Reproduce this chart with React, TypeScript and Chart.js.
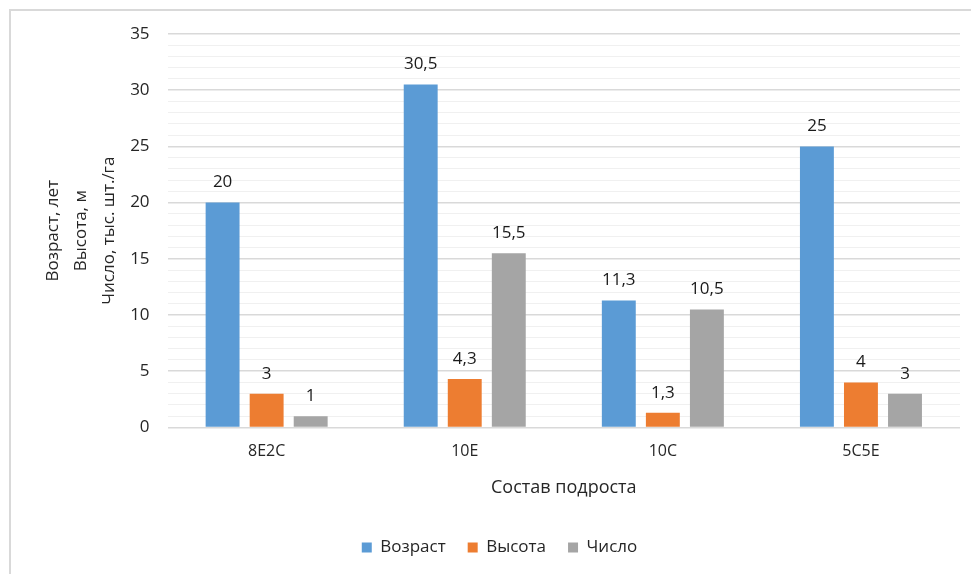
import React, { useEffect, useRef } from 'react';
import { Chart, registerables } from 'chart.js';

Chart.register(...registerables);

const categories = ['8Е2С', '10Е', '10С', '5С5Е'];
const seriesNames = ['Возраст', 'Высота', 'Число'];
const vozrast = [20, 30.5, 11.3, 25];
const vysota = [3, 4.3, 1.3, 4];
const chislo = [1, 15.5, 10.5, 3];
const colors = ['#5B9BD5', '#ED7D31', '#A5A5A5'];
const yTitleLines = ['Возраст, лет', 'Высота, м', 'Число, тыс. шт./га'];
const xTitle = 'Состав подроста';

const FONT = "'Open Sans', 'Noto Sans', sans-serif";

const borderPlugin = {
  id: 'outerBorder',
  beforeDraw(chart: any) {
    const ctx = chart.ctx;
    ctx.save();
    ctx.fillStyle = '#ffffff';
    ctx.fillRect(0, 0, chart.width, chart.height);
    ctx.strokeStyle = '#d9d9d9';
    ctx.lineWidth = 2;
    ctx.beginPath();
    ctx.moveTo(10, chart.height);
    ctx.lineTo(10, 10);
    ctx.lineTo(chart.width, 10);
    ctx.stroke();
    ctx.restore();
  },
};

const labelPlugin = {
  id: 'barLabels',
  afterDatasetsDraw(chart: any) {
    const ctx = chart.ctx;
    ctx.save();
    ctx.font = `17px ${FONT}`;
    ctx.fillStyle = '#1a1a1a';
    ctx.textAlign = 'center';
    ctx.textBaseline = 'middle';
    chart.data.datasets.forEach((ds: any, i: number) => {
      const meta = chart.getDatasetMeta(i);
      meta.data.forEach((bar: any, j: number) => {
        const v = ds.data[j];
        const txt = String(v).replace('.', ',');
        ctx.fillText(txt, bar.x, bar.y - 20);
      });
    });
    ctx.restore();
  },
};

export default function App() {
  const ref = useRef<HTMLCanvasElement>(null);
  useEffect(() => {
    if (!ref.current) return;
    const chart = new Chart(ref.current, {
      type: 'bar',
      data: {
        labels: categories,
        datasets: [vozrast, vysota, chislo].map((d, i) => ({
          label: seriesNames[i],
          data: d,
          backgroundColor: colors[i],
          borderWidth: 0,
          categoryPercentage: 0.667,
          barPercentage: 0.77,
        })),
      },
      options: {
        responsive: false,
        animation: false,
        layout: { padding: { left: 39, right: 11, top: 34, bottom: 8 } },
        plugins: {
          tooltip: { enabled: false },
          legend: {
            position: 'bottom',
            labels: {
              boxWidth: 10,
              boxHeight: 10,
              color: '#262626',
              font: { family: FONT, size: 17 },
              padding: 22,
            },
          },
        },
        scales: {
          x: {
            grid: { display: false },
            border: { display: false },
            ticks: { color: '#262626', font: { family: FONT, size: 16, lineHeight: 1.0 }, padding: 8 },
            title: {
              display: true,
              text: xTitle,
              color: '#262626',
              font: { family: FONT, size: 18 },
              padding: { top: 10, bottom: 18 },
            },
          },
          y: {
            min: 0,
            max: 35,
            border: { display: false },
            afterFit: (scale: any) => {
              scale.width = scale.width - 13;
            },
            grid: {
              color: (c: any) => (c.tick && c.tick.value % 5 === 0 ? '#d9d9d9' : '#f0f0f0'),
              lineWidth: (c: any) => (c.tick && c.tick.value % 5 === 0 ? 1.5 : 1),
              drawTicks: false,
            },
            ticks: {
              stepSize: 1,
              autoSkip: false,
              color: '#262626',
              font: { family: FONT, size: 17 },
              padding: 18,
              callback: (v: any) => (Number(v) % 5 === 0 ? String(v) : ''),
            },
            title: {
              display: true,
              text: yTitleLines,
              color: '#262626',
              font: { family: FONT, size: 17, lineHeight: 1.65 },
              padding: { top: 0, bottom: 2 },
            },
          },
        },
      },
      plugins: [borderPlugin, labelPlugin],
    });
    return () => chart.destroy();
  }, []);
  return (
    <div style={{ position: 'absolute', left: 0, top: 0, width: 971, height: 574 }}>
      <canvas ref={ref} width={971} height={574} />
    </div>
  );
}
